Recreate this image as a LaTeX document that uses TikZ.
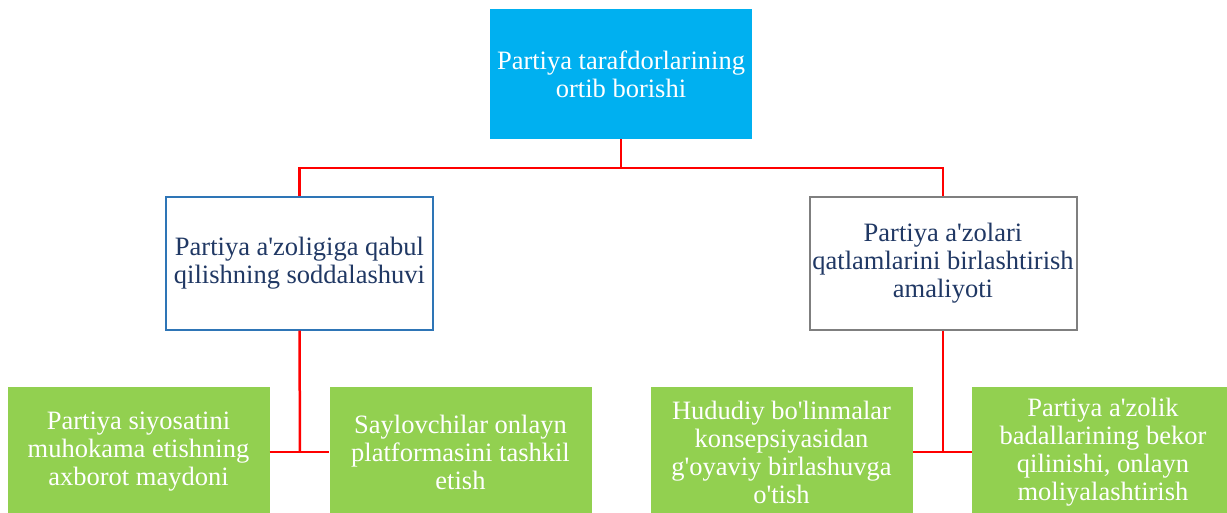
\documentclass[tikz,border=0pt]{standalone}
\usepackage{fontspec}
\setmainfont{Liberation Serif}
\definecolor{topcyan}{HTML}{00B0F0}
\definecolor{leafgreen}{HTML}{92D050}
\definecolor{midblue}{HTML}{2E75B6}
\definecolor{midgray}{HTML}{7F7F7F}
\definecolor{navytext}{HTML}{203864}
\definecolor{linkred}{HTML}{FF0000}
\newcommand{\ap}{\textquotesingle}
\begin{document}
\begin{tikzpicture}[x=1pt,y=-1pt,
  box/.style={minimum width=262pt,minimum height=130pt,inner sep=0pt,align=center,
    font=\fontsize{26.5}{28}\selectfont},
  topbox/.style={box,fill=topcyan,text=white},
  midbox/.style={box,minimum width=267pt,minimum height=133pt,fill=white,line width=2pt,text=navytext},
  leafbox/.style={box,fill=leafgreen,text=white},
  link/.style={draw=linkred,line width=2.5pt}]
\path[use as bounding box] (0,0) rectangle (1227,512);
\begin{scope}
\clip (0,0) rectangle (1227,512);
\node[topbox] (top) at (621,74) {Partiya tarafdorlarining\\ortib borishi};
\node[midbox,draw=midblue] (left) at (299.5,263) {Partiya a\ap zoligiga qabul\\qilishning soddalashuvi};
\node[midbox,draw=midgray] (right) at (943,263) {Partiya a\ap zolari\\qatlamlarini birlashtirish\\amaliyoti};
\node[leafbox] (b1) at (138.5,452) {Partiya siyosatini\\muhokama etishning\\axborot maydoni};
\node[leafbox] (b2) at (460.5,452) {Saylovchilar onlayn\\platformasini tashkil\\etish};
\node[leafbox] (b3) at (781.5,452) {Hududiy bo\ap linmalar\\konsepsiyasidan\\g\ap oyaviy birlashuvga\\o\ap tish};
\node[leafbox] (b4) at (1103,452) {Partiya a\ap zolik\\badallarining bekor\\qilinishi, onlayn\\moliyalashtirish};
\coordinate (j1) at (621,168);
\coordinate (j2) at (300,452);
\coordinate (j3) at (943,452);
\draw[link] (top.south) -- (j1);
\draw[link] (left.north) |- (j1);
\draw[link] (right.north) |- (j1);
\draw[link] (left.south) -- (j2);
\draw[link] (b1.east) -- (b2.west);
\draw[link] (right.south) -- (j3);
\draw[link] (b3.east) -- (b4.west);
\end{scope}
\end{tikzpicture}
\end{document}
